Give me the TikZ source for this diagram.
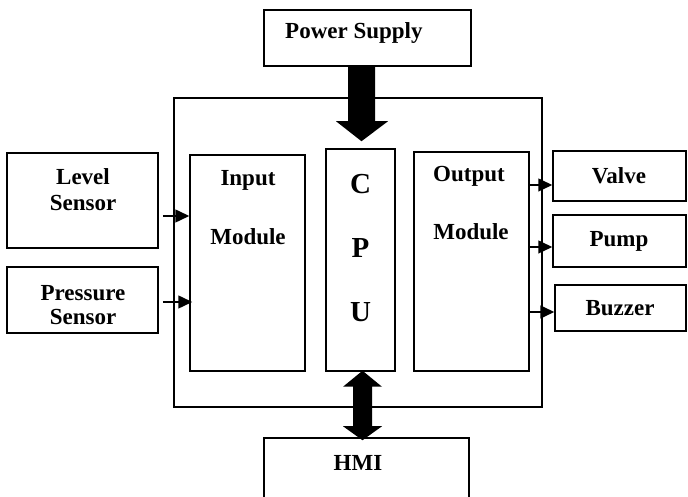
\documentclass[tikz,border=0pt]{standalone}
\usepackage{fontspec}
\setmainfont{Liberation Serif}
\usetikzlibrary{calc,arrows.meta}
\begin{document}
\begin{tikzpicture}[x=1pt,y=1pt,
  box/.style={draw,line width=1.5pt,inner sep=0pt,fill=white},
  lbl/.style={font=\bfseries\fontsize{23}{26}\selectfont,inner sep=0pt},
  big/.style={font=\bfseries\fontsize{29}{32}\selectfont,inner sep=0pt},
  arr/.style={-{Triangle[length=14pt,width=13pt]},line width=1.5pt}]
\useasboundingbox (0,0) rectangle (688,497);
% boxes
\node[box,minimum width=207,minimum height=56] (ps) at (367.5,459) {};
\node[draw,line width=1.5pt,inner sep=0pt,minimum width=368,minimum height=309] (outer) at (358,244.5) {};
\node[box,minimum width=115,minimum height=216] (inp) at (247.5,234) {};
\node[box,minimum width=69,minimum height=222] (cpu) at (360.5,237) {};
\node[box,minimum width=115,minimum height=219] (out) at (471.5,235.5) {};
\node[box,minimum width=151,minimum height=95] (lev) at (82.5,296.5) {};
\node[box,minimum width=151,minimum height=66] (pre) at (82.5,197) {};
\node[box,minimum width=133,minimum height=50] (valve) at (619.5,321) {};
\node[box,minimum width=133,minimum height=52] (pump) at (619.5,256) {};
\node[box,minimum width=131,minimum height=46] (buz) at (620.5,189) {};
\node[box,minimum width=205,minimum height=70] (hmi) at (366.5,24) {};
% texts
\node[lbl,anchor=west] (tps) at (285,464) {Power Supply};
\node[lbl] (tlev1) at (83,320) {Level};
\node[lbl] (tlev2) at (83,294) {Sensor};
\node[lbl] (tpre1) at (83,204) {Pressure};
\node[lbl] (tpre2) at (83,180) {Sensor};
\node[lbl] (tinp1) at (248,317) {Input};
\node[lbl] (tinp2) at (248,260) {Module};
\node[big] (tc) at (360.5,313) {C};
\node[big] (tp) at (360.5,249) {P};
\node[big] (tu) at (360.5,185) {U};
\node[lbl] (tout1) at (469,321) {Output};
\node[lbl] (tout2) at (471,265) {Module};
\node[lbl] (tval) at (619,321) {Valve};
\node[lbl] (tpump) at (619,256) {Pump};
\node[lbl] (tbuz) at (620,189) {Buzzer};
\node[lbl] (thmi) at (358,34) {HMI};
% thin arrows
\draw[arr] ($(lev.east)+(4,-15.5)$) coordinate (la) -- (la -| inp.west);
\draw[arr] ($(pre.east)+(4,-2)$) coordinate (pa) -- ($(pa -| inp.west)+(3,0)$);
\draw[arr] ($(out.east)+(0,76.5)$) coordinate (va) -- (va -| valve.west);
\draw[arr] ($(out.east)+(0,14.5)$) coordinate (pu) -- (pu -| pump.west);
\draw[arr] ($(out.east)+(0,-50.5)$) coordinate (bu) -- (bu -| buz.west);
% thick power arrow
\coordinate (pt) at (cpu.north |- ps.south);
\fill ($(pt)+(-12.5,0)$) -- ($(pt)+(14.5,0)$)
  -- ($(cpu.north)+(14.5,27)$) -- ($(cpu.north)+(27.5,27)$) -- ($(cpu.north)+(1,7)$)
  -- ($(cpu.north)+(-24.5,27)$) -- ($(cpu.north)+(-12.5,27)$) -- cycle;
% HMI double arrow
\fill ($(cpu.south)+(2,1)$) -- ($(cpu.south)+(21.5,-15)$) -- ($(cpu.south)+(11.5,-15)$)
  -- ($(hmi.north)+(5.5,11)$) -- ($(hmi.north)+(15.5,11)$) -- ($(hmi.north)+(-4,-3)$)
  -- ($(hmi.north)+(-23.5,11)$) -- ($(hmi.north)+(-13.5,11)$)
  -- ($(cpu.south)+(-7.5,-15)$) -- ($(cpu.south)+(-17.5,-15)$) -- cycle;
\end{tikzpicture}
\end{document}
